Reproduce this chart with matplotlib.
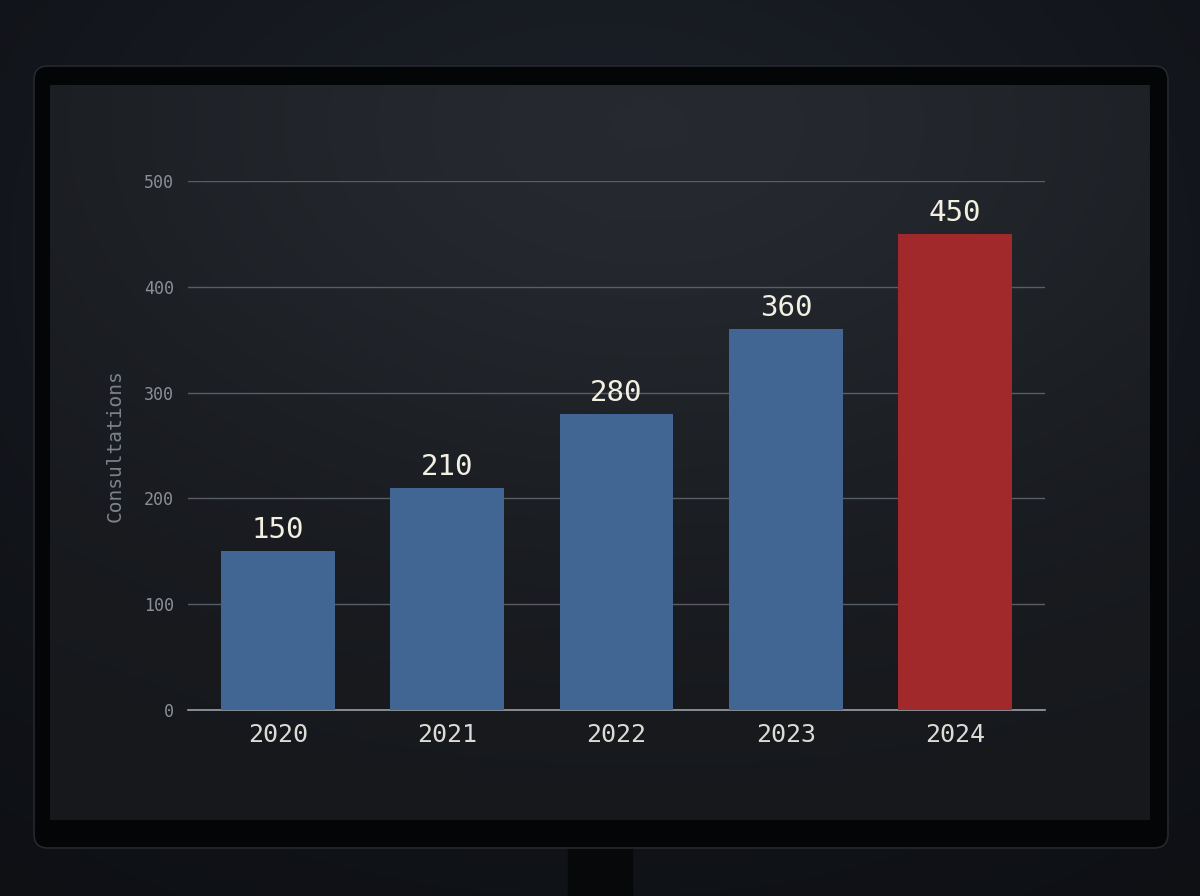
import numpy as np
import matplotlib
matplotlib.use("Agg")
import matplotlib.pyplot as plt
from matplotlib.patches import FancyBboxPatch, Rectangle

years = ["2020", "2021", "2022", "2023", "2024"]
consultations = [150, 210, 280, 360, 450]
bar_colors = ["#426694", "#426694", "#426694", "#426694", "#a1292b"]
y_ticks = [0, 100, 200, 300, 400, 500]

plt.rcParams["font.family"] = ["DejaVu Sans Mono", "DejaVu Sans"]

fig = plt.figure(figsize=(12, 8.96), dpi=100)
fig.patch.set_facecolor("#14171d")

# background: room, monitor bezel, screen, stand (pixel coords)
bg = fig.add_axes([0, 0, 1, 1], zorder=0)
bg.set_xlim(0, 1200)
bg.set_ylim(896, 0)
bg.axis("off")

yy, xx = np.mgrid[0:896, 0:1200]
room = np.exp(-(((xx - 600) / 650) ** 2 + ((yy - 250) / 500) ** 2))
bg.imshow(room, extent=(0, 1200, 896, 0), cmap=matplotlib.colors.LinearSegmentedColormap.from_list(
    "room", ["#0d0f13", "#1b1f27"]), vmin=0, vmax=1, zorder=0)

bg.add_patch(Rectangle((568, 840), 64, 60, color="#07080a", zorder=1))
bg.add_patch(FancyBboxPatch((34, 66), 1134, 782, boxstyle="round,pad=0,rounding_size=14",
                            facecolor="#040506", edgecolor="#25282d", lw=1.2, zorder=2))

sy, sx = np.mgrid[0:735, 0:1100]
glow = np.exp(-(((sx - 600) / 600) ** 2 + ((sy - 40) / 380) ** 2))
cmap_screen = matplotlib.colors.LinearSegmentedColormap.from_list("scr", ["#16181c", "#262a30"])
bg.imshow(glow, extent=(50, 1150, 820, 85), cmap=cmap_screen, vmin=0, vmax=1, zorder=3)

# chart
ax = fig.add_axes([188 / 1200, 1 - 710 / 896, (1045 - 188) / 1200, (710 - 181) / 896], zorder=2)
ax.set_facecolor("none")
x = np.arange(len(years))
bars = ax.bar(x, consultations, width=0.67, color=bar_colors, zorder=3)
ax.set_xlim(-0.53, 4.53)
ax.set_ylim(0, 500)
ax.set_yticks(y_ticks)
ax.set_xticks(x)
ax.set_xticklabels(years)
ax.grid(axis="y", color="#585d66", lw=1.0, zorder=1)
for s in ["top", "right", "left"]:
    ax.spines[s].set_visible(False)
ax.spines["bottom"].set_color("#9aa0a8")
ax.spines["bottom"].set_linewidth(1.2)
ax.tick_params(axis="y", length=0, pad=10, labelsize=12, labelcolor="#8b9096")
ax.tick_params(axis="x", length=0, pad=9, labelsize=18, labelcolor="#dcdcd6")
ax.set_ylabel("Consultations", fontsize=14, color="#7d838b", labelpad=14)

for b, v in zip(bars, consultations):
    ax.annotate(str(v), (b.get_x() + b.get_width() / 2, v), xytext=(0, 5),
                textcoords="offset points", ha="center", va="bottom",
                fontsize=21, color="#f2f0e2")

fig.savefig("out.png", dpi=100, facecolor=fig.get_facecolor())
